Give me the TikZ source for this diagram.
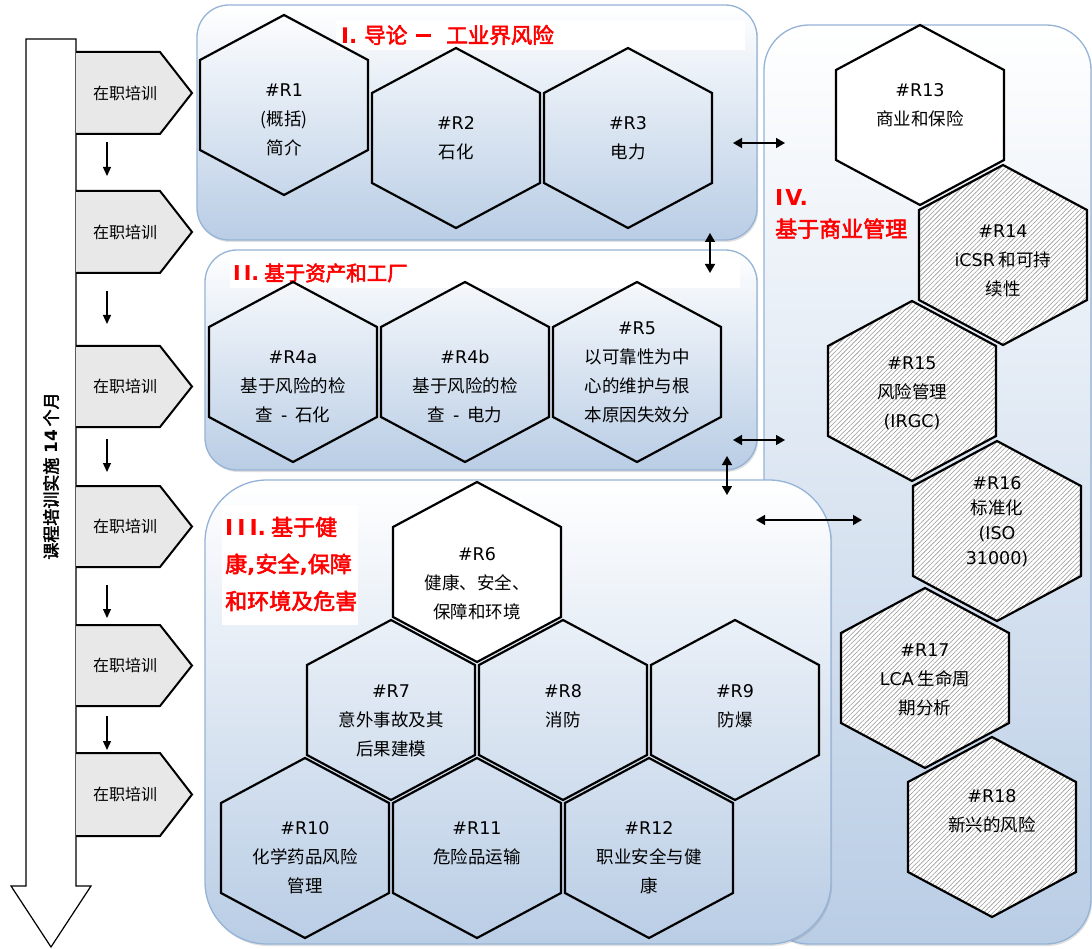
\documentclass[tikz,border=0pt]{standalone}
\usepackage{fontspec}
\setmainfont{Noto Sans CJK SC}
\newfontfamily\lat{DejaVu Sans}
\newfontfamily\cjkb{Noto Sans CJK SC}[FakeBold=2.5]
\usetikzlibrary{arrows.meta,patterns.meta,shadows}
\definecolor{pblue}{RGB}{185,205,229}
\definecolor{pborder}{RGB}{149,179,215}
\definecolor{chev}{RGB}{232,232,232}
\definecolor{tred}{RGB}{255,0,0}
\newcommand\rr[1]{{\lat\#R#1}}
\newcommand\hexa[3]{\draw[#3] (#1,#2) ++(0,-90) -- ++(84,45) -- ++(0,90) -- ++(-84,45) -- ++(-84,-45) -- ++(0,-90) -- cycle;}
\newcommand\chevron[3]{%
  \fill[chev] (76,#2) -- (160,#2) -- (192,{(#2+#3)/2}) -- (160,#3) -- (76,#3) -- cycle;
  \draw[line width=2pt, line join=miter] (76,#2) -- (160,#2) -- (192,{(#2+#3)/2}) -- (160,#3) -- (76,#3);
  \node[chevtext] (#1) at (125,{(#2+#3)/2}) {在职培训};}
\tikzset{
  panel/.style={draw=pborder, line width=1.3pt, top color=white, bottom color=pblue,
    drop shadow={shadow xshift=1.2pt, shadow yshift=-2pt, opacity=0.25}},
  hexline/.style={draw=black, line width=2.2pt, line join=miter},
  hatched/.style={hexline, preaction={fill=white},
    pattern={Lines[angle=45,distance=3.3pt,line width=0.6pt]}, pattern color=gray!80},
  plainhex/.style={hexline, fill=white},
  hextext/.style={align=center, font=\fontsize{17.5}{29}\selectfont, inner sep=0pt},
  chevtext/.style={font=\fontsize{16}{18}\selectfont, inner sep=0pt},
  ttl/.style={text=tred, font=\cjkb\fontsize{21.5}{37}\selectfont, align=left, inner sep=0pt, anchor=west},
  dbl/.style={{Triangle[length=9pt,width=10pt]}-{Triangle[length=9pt,width=10pt]}, line width=1.5pt},
  down/.style={-{Triangle[length=9pt,width=8pt]}, line width=1.3pt},
}
\begin{document}
\begin{tikzpicture}[x=1pt,y=-1pt]
\useasboundingbox (0,0) rectangle (1092,949);
\fill[white] (0,0) rectangle (1092,949);

% big timeline arrow
\draw[line width=1.2pt, fill=white, line join=miter] (26,39) -- (76,39) -- (76,886) -- (91,886) -- (51,947) -- (11,886) -- (26,886) -- cycle;
\node[rotate=90, font=\cjkb\fontsize{17}{20}\selectfont, inner sep=0pt] (lbl) at (51,476) {课程培训实施 {\lat\bfseries 14} 个月};

% chevrons
\chevron{c1}{52}{134}
\chevron{c2}{191}{273}
\chevron{c3}{346}{427}
\chevron{c4}{486}{567}
\chevron{c5}{625}{706}
\chevron{c6}{753}{836}
\coordinate (d1a) at (107,142); \coordinate (d1b) at (107,176);
\coordinate (d2a) at (107,291); \coordinate (d2b) at (107,324);
\coordinate (d3a) at (107,439); \coordinate (d3b) at (107,472);
\coordinate (d4a) at (107,585); \coordinate (d4b) at (107,618);
\coordinate (d5a) at (107,716); \coordinate (d5b) at (107,750);
\foreach \i in {1,...,5} {\draw[down] (d\i a) -- (d\i b);}

% panel IV
\draw[panel, rounded corners=45pt] (764,25) rectangle (1091,944);
% panel I
\draw[panel, rounded corners=32pt] (197,5) rectangle (757,240);
\fill[white] (336,21) rectangle (745,50);
% panel II
\draw[panel, rounded corners=32pt] (205,250) rectangle (757,470);
\fill[white] (230,258) rectangle (740,288);
% panel III
\draw[panel, rounded corners=62pt] (205,480) rectangle (831,944);
\fill[white] (222,505) rectangle (358,625);

% titles
\node[ttl] (ttl1) at (341,35) {{\lat\bfseries I.}\hspace{7pt}导论\hspace{9pt}\rule[6.5pt]{15pt}{2.8pt}\hspace{15pt}工业界风险};
\node[ttl, font=\cjkb\fontsize{20.5}{37}\selectfont] (ttl2) at (233,273) {{\lat\bfseries I\kern3pt I.}\hspace{5pt}基于资产和工厂};
\node[ttl, font=\cjkb\fontsize{22}{37}\selectfont] (ttl3) at (225,564) {{\lat\bfseries I\kern4pt I\kern4pt I.}\hspace{5pt}基于健\\康{\lat\bfseries ,}安全{\lat\bfseries ,}保障\\和环境及危害};
\node[ttl, font=\cjkb\fontsize{22}{32}\selectfont] (ttl4) at (775,214) {{\lat\bfseries I\kern2pt V.}\\基于商业管理};

% section I hexagons
\hexa{284}{105}{hexline}
\hexa{456}{138}{hexline}
\hexa{628}{138}{hexline}
\node[hextext] (t1) at (284,120) {\rr1\\(概括)\\简介};
\node[hextext] (t2) at (456,138) {\rr2\\石化};
\node[hextext] (t3) at (628,138) {\rr3\\电力};

% section II hexagons
\hexa{293}{372}{hexline}
\hexa{465}{372}{hexline}
\hexa{637}{372}{hexline}
\node[hextext] (t4a) at (293,387) {\rr{4a}\\基于风险的检\\查\hspace{8pt}{\lat -}\hspace{8pt}石化};
\node[hextext] (t4b) at (465,387) {\rr{4b}\\基于风险的检\\查\hspace{8pt}{\lat -}\hspace{8pt}电力};
\node[hextext] (t5) at (637,372) {\rr5\\以可靠性为中\\心的维护与根\\本原因失效分};

% section III hexagons
\hexa{477}{572}{plainhex}
\hexa{391}{710}{hexline}
\hexa{563}{710}{hexline}
\hexa{735}{710}{hexline}
\hexa{305}{848}{hexline}
\hexa{477}{848}{hexline}
\hexa{649}{848}{hexline}
\node[hextext] (t6) at (477,584) {\rr6\\健康、安全、\\保障和环境};
\node[hextext] (t7) at (391,721) {\rr7\\意外事故及其\\后果建模};
\node[hextext] (t8) at (563,706) {\rr8\\消防};
\node[hextext] (t9) at (735,706) {\rr9\\防爆};
\node[hextext] (t10) at (305,858) {\rr{10}\\化学药品风险\\管理};
\node[hextext] (t11) at (477,843) {\rr{11}\\危险品运输};
\node[hextext] (t12) at (649,858) {\rr{12}\\职业安全与健\\康};

% section IV hexagons
\hexa{920}{115}{plainhex}
\hexa{1003}{255}{hatched}
\hexa{912}{391}{hatched}
\hexa{997}{531}{hatched}
\hexa{925}{678}{hatched}
\hexa{992}{827}{hatched}
\node[hextext] (t13) at (920,105) {\rr{13}\\商业和保险};
\node[hextext] (t14) at (1003,261) {\rr{14}\\{\lat iCSR} 和可持\\续性};
\node[hextext] (t15) at (912,393) {\rr{15}\\风险管理\\{\lat (IRGC)}};
\node[hextext, font=\fontsize{17.5}{25}\selectfont] (t16) at (997,522) {\rr{16}\\标准化\\{\lat (ISO}\\{\lat 31000)}};
\node[hextext] (t17) at (925,680) {\rr{17}\\{\lat LCA} 生命周\\期分析};
\node[hextext] (t18) at (992,811) {\rr{18}\\新兴的风险};

% connectors between panels
\coordinate (a1s) at (733,143); \coordinate (a1e) at (785,143);
\coordinate (a2s) at (710,233); \coordinate (a2e) at (710,273);
\coordinate (a3s) at (733,440); \coordinate (a3e) at (785,440);
\coordinate (a4s) at (727,456); \coordinate (a4e) at (727,495);
\coordinate (a5s) at (756,520); \coordinate (a5e) at (862,520);
\foreach \i in {1,...,5} {\draw[dbl] (a\i s) -- (a\i e);}
\end{tikzpicture}
\end{document}
